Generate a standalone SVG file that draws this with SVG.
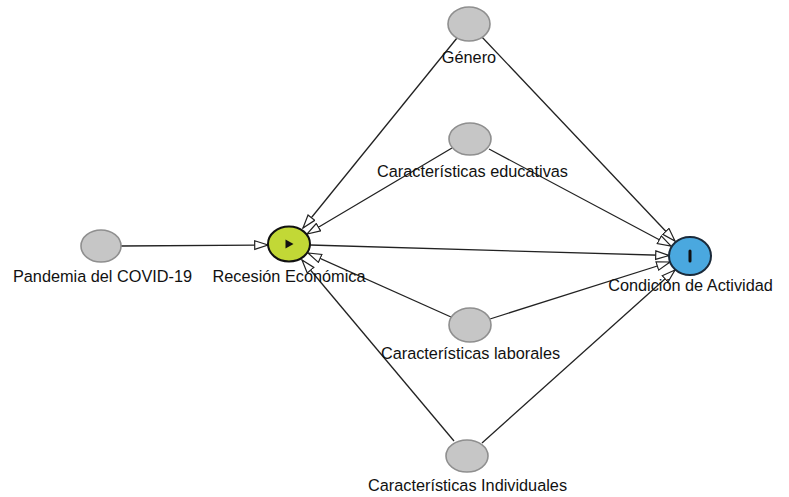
<svg xmlns="http://www.w3.org/2000/svg" width="789" height="497" viewBox="0 0 789 497">
<defs>
<marker id="arr" markerUnits="userSpaceOnUse" markerWidth="16" markerHeight="12" refX="14" refY="5" orient="auto">
<path d="M0.7,0.7 L14,5 L0.7,9.3 z" fill="#fff" stroke="#222" stroke-width="1.2"/>
</marker>
<style>
.e{stroke:#222;stroke-width:1.3;fill:none;marker-end:url(#arr)}
.g{fill:#c6c6c6;stroke:#8f8f8f;stroke-width:1.6}
.t{font-family:"Liberation Sans",Arial,sans-serif;font-size:16.3px;fill:#111;text-anchor:middle}
</style>
</defs>
<rect width="789" height="497" fill="#fff"/>
<g id="connectors">
<line class="e" x1="121" y1="246" x2="268" y2="245"/>
<line class="e" x1="457" y1="38" x2="303" y2="228"/>
<line class="e" x1="481" y1="36" x2="675" y2="241"/>
<line class="e" x1="452" y1="148" x2="307" y2="234"/>
<line class="e" x1="489" y1="149" x2="671" y2="246"/>
<line class="e" x1="310" y1="245" x2="669" y2="255.5"/>
<line class="e" x1="451" y1="317" x2="308" y2="253"/>
<line class="e" x1="490" y1="319" x2="670" y2="262"/>
<line class="e" x1="454" y1="441" x2="302" y2="260"/>
<line class="e" x1="482" y1="443" x2="675" y2="270"/>
</g>
<g id="n_pandemia">
<ellipse class="g" cx="101" cy="246" rx="20" ry="16"/>
<text class="t" x="102.5" y="282">Pandemia del COVID-19</text>
</g>
<g id="n_recesion">
<ellipse cx="289" cy="244" rx="21" ry="17.5" fill="#c2d836" stroke="#111" stroke-width="2"/>
<path d="M285.5,239.5 L293.5,244 L285.5,248.5 z" fill="#111"/>
<text class="t" x="289" y="282">Recesión Económica</text>
</g>
<g id="n_condicion">
<ellipse cx="690" cy="256" rx="21" ry="19" fill="#4aa8df" stroke="#1a2a3a" stroke-width="2"/>
<rect x="688.5" y="249.5" width="3" height="13" rx="1.5" fill="#111"/>
<text class="t" x="690.5" y="291">Condición de Actividad</text>
</g>
<g id="n_genero">
<ellipse class="g" cx="469" cy="24" rx="21" ry="17"/>
<text class="t" x="469" y="63">Género</text>
</g>
<g id="n_educativas">
<ellipse class="g" cx="470" cy="139" rx="21" ry="16"/>
<text class="t" x="472.5" y="177">Características educativas</text>
</g>
<g id="n_laborales">
<ellipse class="g" cx="470" cy="325" rx="21" ry="17"/>
<text class="t" x="470.5" y="359">Características laborales</text>
</g>
<g id="n_individuales">
<ellipse class="g" cx="467" cy="456" rx="21" ry="16"/>
<text class="t" x="467.5" y="491">Características Individuales</text>
</g>
</svg>
